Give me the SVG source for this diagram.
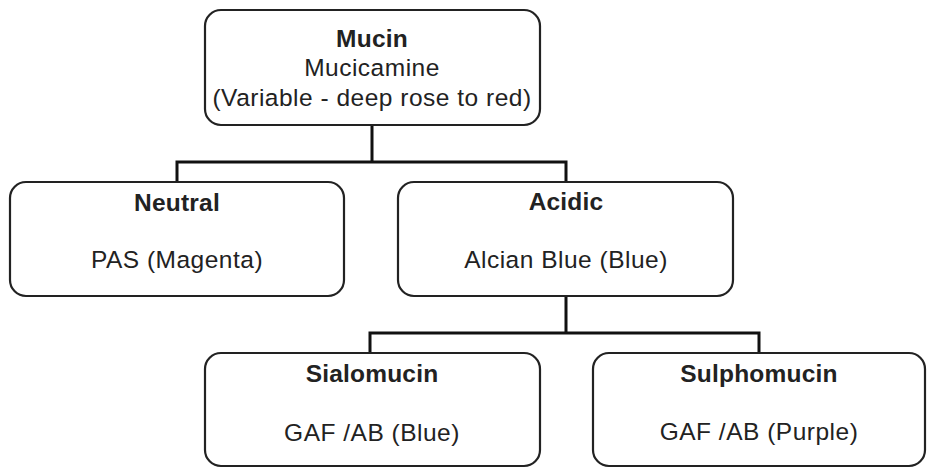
<svg xmlns="http://www.w3.org/2000/svg" width="928" height="468" viewBox="0 0 928 468">
<style>
.box{fill:#fff;stroke:#222;stroke-width:2.2}
.t{font-family:"Liberation Sans",Arial,sans-serif;font-size:24.5px;letter-spacing:0.5px;fill:#222;text-anchor:middle}
.b{font-weight:bold;letter-spacing:0.2px}
.c{fill:none;stroke:#111;stroke-width:3}
</style>
<rect width="928" height="468" fill="#fff"/>
<g id="connectors">
<path class="c" d="M372 125V162M177 182V162H566V182"/>
<path class="c" d="M566 296V333M370 353V333H759V353"/>
</g>
<g id="mucin">
<rect class="box" x="205" y="10" width="335" height="115" rx="16"/>
<text class="t b" x="372" y="47">Mucin</text>
<text class="t" x="372" y="76">Mucicamine</text>
<text class="t" x="372" y="106">(Variable - deep rose to red)</text>
</g>
<g id="neutral">
<rect class="box" x="10" y="182" width="334" height="114" rx="16"/>
<text class="t b" x="177" y="211">Neutral</text>
<text class="t" x="177" y="268">PAS (Magenta)</text>
</g>
<g id="acidic">
<rect class="box" x="398" y="182" width="335" height="114" rx="16"/>
<text class="t b" x="566" y="210">Acidic</text>
<text class="t" x="566" y="268">Alcian Blue (Blue)</text>
</g>
<g id="sialomucin">
<rect class="box" x="205" y="353" width="335" height="113" rx="16"/>
<text class="t b" x="372" y="382">Sialomucin</text>
<text class="t" x="372" y="441">GAF /AB (Blue)</text>
</g>
<g id="sulphomucin">
<rect class="box" x="593" y="353" width="332" height="113" rx="16"/>
<text class="t b" x="759" y="382">Sulphomucin</text>
<text class="t" x="759" y="440">GAF /AB (Purple)</text>
</g>
</svg>
